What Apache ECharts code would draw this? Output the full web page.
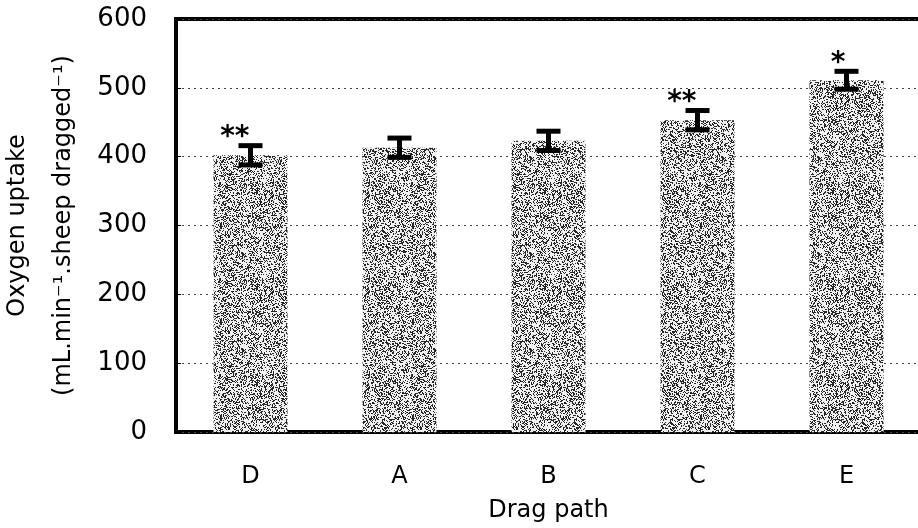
<!DOCTYPE html>
<html>
<head>
<meta charset="utf-8">
<script src="https://cdn.jsdelivr.net/npm/echarts@6/dist/echarts.min.js"></script>
<style>
html,body{margin:0;padding:0;background:#fff;}
#chart{width:918px;height:528px;}
</style>
</head>
<body>
<div id="chart"></div>
<script>
// ---- data ----
const categories = ['D', 'A', 'B', 'C', 'E'];
const means = [402, 413, 423, 453, 511];
const errors = [14, 14, 14, 14, 13];
const significance = ['**', '', '', '**', '*'];
const yTicks = [0, 100, 200, 300, 400, 500, 600];

// stipple texture (style only, deterministic hash)
function makeStipple() {
  const c = document.createElement('canvas');
  const n = 96;
  c.width = n; c.height = n;
  const ctx = c.getContext('2d');
  const img = ctx.createImageData(n, n);
  for (let y = 0; y < n; y++) {
    for (let x = 0; x < n; x++) {
      let h = (x * 374761393 + y * 668265263) | 0;
      h = Math.imul(h ^ (h >>> 13), 1274126177);
      h = (h ^ (h >>> 16)) >>> 0;
      const v = (h % 1000) / 1000;
      const dark = v < 0.36;
      const g = dark ? 40 : 240;
      const i = (y * n + x) * 4;
      img.data[i] = g; img.data[i + 1] = g; img.data[i + 2] = g; img.data[i + 3] = 255;
    }
  }
  ctx.putImageData(img, 0, 0);
  return c;
}

const font = 'DejaVu Sans';
const chart = echarts.init(document.getElementById('chart'), null, {renderer: 'canvas'});

const errData = categories.map((c, i) => [i, means[i], errors[i], significance[i]]);

chart.setOption({
  animation: false,
  backgroundColor: '#fff',
  grid: {
    left: 176, top: 19, width: 745, height: 413,
    outerBoundsMode: 'none', containLabel: false,
    show: true, borderColor: '#000', borderWidth: 4, backgroundColor: 'transparent'
  },
  xAxis: {
    type: 'category',
    data: categories,
    axisLine: {show: false},
    axisTick: {show: false},
    axisLabel: {fontFamily: font, fontSize: 24, color: '#000', margin: 33},
    name: 'Drag path',
    nameLocation: 'middle',
    nameGap: 67,
    nameTextStyle: {fontFamily: font, fontSize: 24, color: '#000'}
  },
  yAxis: {
    type: 'value',
    min: yTicks[0], max: yTicks[yTicks.length - 1], interval: 100,
    axisLine: {show: false},
    axisTick: {show: true, inside: true, length: 5, lineStyle: {color: '#000', width: 1}},
    axisLabel: {fontFamily: font, fontSize: 26, color: '#000', margin: 29},
    splitLine: {show: true, lineStyle: {color: '#444', width: 1, type: [2, 4]}},
    name: 'Oxygen uptake\n(mL.min⁻¹.sheep dragged⁻¹)',
    nameLocation: 'middle',
    nameGap: 89,
    nameTextStyle: {fontFamily: font, fontSize: 24, color: '#000', lineHeight: 46}
  },
  series: [
    {
      type: 'bar',
      data: means,
      barWidth: 74,
      itemStyle: {color: {image: makeStipple(), repeat: 'repeat'}},
      z: 2
    },
    {
      type: 'custom',
      data: errData,
      z: 5,
      renderItem: function (params, api) {
        const i = api.value(0);
        const m = api.value(1);
        const e = api.value(2);
        const star = errData[params.dataIndex][3];
        const top = api.coord([i, m + e]);
        const bot = api.coord([i, m - e]);
        const hw = 12;
        const children = [
          {type: 'line', shape: {x1: top[0], y1: top[1], x2: bot[0], y2: bot[1]}, style: {stroke: '#000', lineWidth: 5}},
          {type: 'line', shape: {x1: top[0] - hw, y1: top[1], x2: top[0] + hw, y2: top[1]}, style: {stroke: '#000', lineWidth: 5}},
          {type: 'line', shape: {x1: bot[0] - hw, y1: bot[1], x2: bot[0] + hw, y2: bot[1]}, style: {stroke: '#000', lineWidth: 5}}
        ];
        if (star) {
          children.push({
            type: 'text',
            style: {
              text: star, x: top[0] - 1, y: top[1] + 6,
              textAlign: 'right', textVerticalAlign: 'bottom',
              fontFamily: font, fontSize: 28, fontWeight: 'bold', fill: '#000'
            }
          });
        }
        return {type: 'group', children: children};
      }
    }
  ]
});
</script>
</body>
</html>
